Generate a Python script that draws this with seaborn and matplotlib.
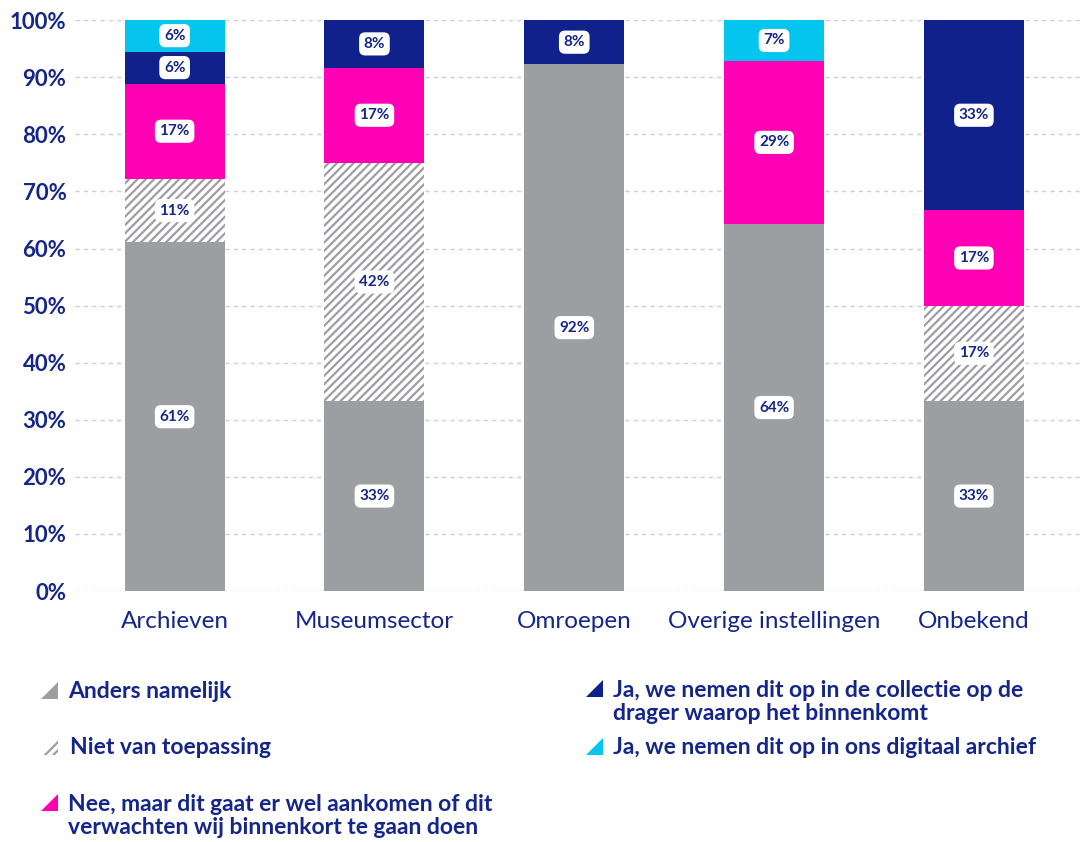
import numpy as np
import pandas as pd
import matplotlib
matplotlib.use("Agg")
import matplotlib.pyplot as plt
from matplotlib.patches import Polygon
import seaborn as sns

# data (shares per sector, in %)
categories = ["Archieven", "Museumsector", "Omroepen", "Overige instellingen", "Onbekend"]
anders = [61.1, 33.3, 92.3, 64.3, 33.3]
niet_van_toepassing = [11.1, 41.7, 0.0, 0.0, 16.7]
nee_maar = [16.7, 16.7, 0.0, 28.6, 16.7]
ja_collectie = [5.6, 8.3, 7.7, 0.0, 33.3]
ja_digitaal = [5.6, 0.0, 0.0, 7.1, 0.0]
y_ticks = [0, 10, 20, 30, 40, 50, 60, 70, 80, 90, 100]

series_names = [
    "Anders namelijk",
    "Niet van toepassing",
    "Nee, maar dit gaat er wel aankomen of dit\nverwachten wij binnenkort te gaan doen",
    "Ja, we nemen dit op in de collectie op de\ndrager waarop het binnenkomt",
    "Ja, we nemen dit op in ons digitaal archief",
]

NAVY = "#15268a"
GRAY = "#9d9ea2"
PINK = "#ff00b4"
DARK = "#10218b"
CYAN = "#05c5ef"

sns.set_style("white")
plt.rcParams["font.family"] = ["Lato", "DejaVu Sans"]
plt.rcParams["hatch.color"] = GRAY
plt.rcParams["hatch.linewidth"] = 1.6

df = pd.DataFrame({"cat": categories,
                   "s1": anders, "s2": niet_van_toepassing, "s3": nee_maar,
                   "s4": ja_collectie, "s5": ja_digitaal})
layers = ["s1", "s2", "s3", "s4", "s5"]
cum = df[layers].cumsum(axis=1)

fig = plt.figure(figsize=(10.83, 8.42), dpi=100)
ax = fig.add_axes([0.069, 0.298, 0.931, 0.678])

styles = {
    "s5": dict(color=CYAN),
    "s4": dict(color=DARK),
    "s3": dict(color=PINK),
    "s2": dict(color="white", hatch="////", edgecolor=GRAY),
    "s1": dict(color=GRAY),
}

# draw cumulative bars from the tallest down so the lower layers overlay
for layer in reversed(layers):
    sns.barplot(x=df["cat"], y=cum[layer], ax=ax, width=0.5, saturation=1,
                linewidth=0, **styles[layer])

# segment labels
for i in range(len(categories)):
    bottom = 0.0
    for layer in layers:
        v = df[layer].iloc[i]
        if v > 0:
            ax.text(i, bottom + v / 2, f"{v:.0f}%", ha="center", va="center",
                    fontsize=11, fontweight="bold", color=NAVY,
                    bbox=dict(boxstyle="round,pad=0.3,rounding_size=0.4",
                              fc="white", ec="none"))
        bottom += v

ax.set_ylim(0, 100)
ax.set_xlim(-0.5, 4.546)
ax.set_yticks(y_ticks)
ax.set_yticklabels([f"{t}%" for t in y_ticks], fontsize=16, fontweight="bold", color=NAVY)
ax.set_xticks(range(len(categories)))
ax.set_xticklabels(categories, fontsize=17.5, color=NAVY)
ax.set_xlabel("")
ax.set_ylabel("")
ax.tick_params(axis="both", length=0)
ax.tick_params(axis="x", pad=14)
ax.tick_params(axis="y", pad=6)
ax.yaxis.grid(True, linestyle=(0, (3, 3)), color="#c9c9e8", linewidth=1)
ax.set_axisbelow(True)
for s in ax.spines.values():
    s.set_visible(False)

# legend with triangle markers
W, H = 1083, 842
def tri(x, y, color, hatch=None):
    size = 17
    pts = [(x / W, 1 - y / H), ((x + size) / W, 1 - y / H), ((x + size) / W, 1 - (y - size) / H)]
    poly = Polygon(pts, closed=True, transform=fig.transFigure,
                   facecolor=("white" if hatch else color), edgecolor=(GRAY if hatch else "none"),
                   linewidth=0, hatch=hatch)
    fig.add_artist(poly)

legend_items = [
    (41, 699, 68, 691, series_names[0], GRAY, None),
    (41, 755, 70, 747, series_names[1], GRAY, "////"),
    (41, 811, 68, 816, series_names[2], PINK, None),
    (586, 697, 613, 702, series_names[3], DARK, None),
    (586, 755, 613, 747, series_names[4], CYAN, None),
]
for mx, my, tx, ty, label, color, hatch in legend_items:
    tri(mx, my, color, hatch)
    fig.text(tx / W, 1 - ty / H, label, ha="left", va="center", fontsize=16.5,
             fontweight="bold", color=NAVY, linespacing=1.15)

fig.savefig("out.png", dpi=100)
